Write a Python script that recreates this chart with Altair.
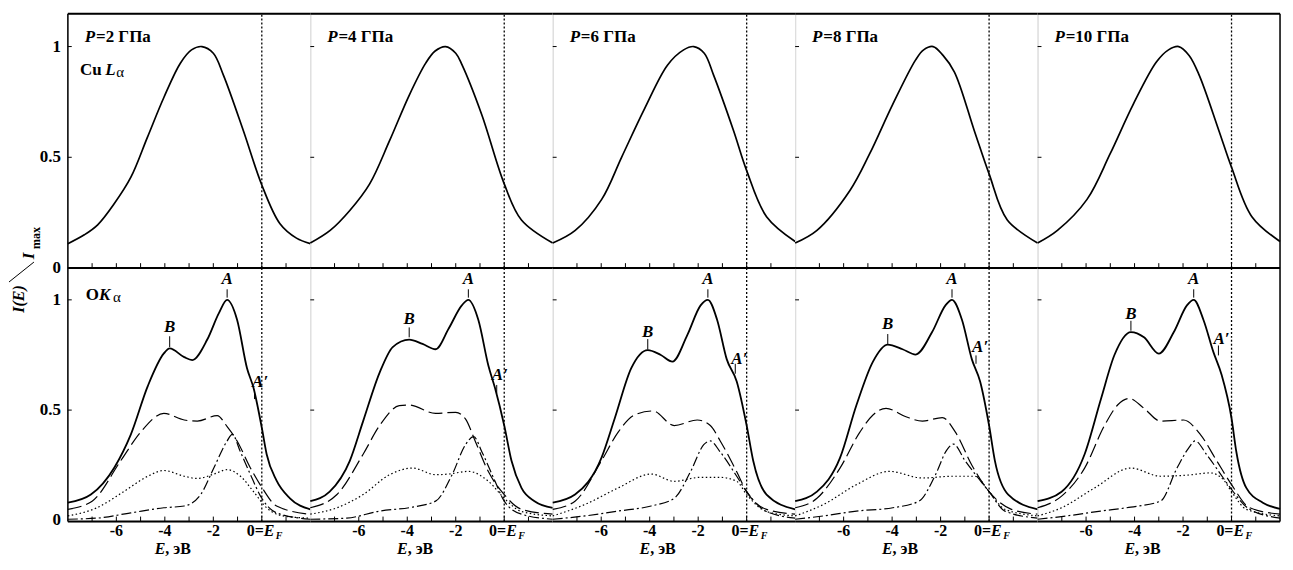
import altair as alt
import pandas as pd

FONT = "Liberation Serif"
PRESSURES = [2, 4, 6, 8, 10]

# ---- Top row: Cu L-alpha spectra (E in eV, I/Imax) ----
CU_E = {
    2: [-8, -7.32, -6.77, -6.09, -5.4, -4.72, -4.04, -3.36, -2.9, -2.47, -2.0, -1.58, -0.76, 0, 0.75, 1.43, 2.0],
    4: [-8, -7.18, -6.37, -5.55, -4.73, -3.92, -3.24, -2.85, -2.42, -2.0, -1.74, -0.93, 0, 0.71, 2.0],
    6: [-8, -7.07, -5.98, -5.16, -4.21, -3.26, -2.6, -2.18, -1.75, -1.36, -0.54, 0, 0.82, 2.0],
    8: [-8, -7.1, -5.74, -4.93, -3.98, -3.03, -2.7, -2.31, -1.9, -1.43, -0.61, 0, 0.75, 2.0],
    10: [-8, -7.18, -5.96, -5.01, -4.06, -3.1, -2.6, -2.18, -1.75, -1.33, -0.52, 0, 0.84, 2.0],
}
CU_I = {
    2: [0.11, 0.15, 0.195, 0.29, 0.41, 0.59, 0.77, 0.925, 0.985, 1.0, 0.97, 0.87, 0.62, 0.375, 0.2, 0.135, 0.11],
    4: [0.113, 0.17, 0.26, 0.38, 0.575, 0.78, 0.925, 0.98, 1.0, 0.97, 0.917, 0.693, 0.38, 0.217, 0.113],
    6: [0.113, 0.17, 0.31, 0.5, 0.72, 0.917, 0.985, 1.0, 0.97, 0.87, 0.62, 0.44, 0.232, 0.12],
    8: [0.113, 0.17, 0.35, 0.515, 0.738, 0.94, 0.985, 1.0, 0.96, 0.885, 0.62, 0.425, 0.217, 0.113],
    10: [0.113, 0.17, 0.31, 0.515, 0.738, 0.93, 0.985, 1.0, 0.96, 0.87, 0.62, 0.455, 0.232, 0.12],
}

# ---- Bottom row: O K-alpha spectra ----
TOT_E = {
    2: [-8, -7.05, -6.08, -5.4, -4.7, -4.04, -3.8, -3.2, -2.87, -2.25, -1.77, -1.43, -1.02, -0.61, -0.34, 0, 0.2, 0.61, 1.16, 2.0],
    4: [-8, -7.2, -6.37, -5.82, -5.14, -4.6, -3.92, -3.37, -2.83, -2.29, -1.75, -1.48, -1.07, -0.65, -0.38, 0, 0.3, 0.71, 1.25, 2.0],
    6: [-8, -7.08, -5.99, -5.44, -4.76, -4.08, -3.54, -3.06, -2.45, -1.9, -1.6, -1.22, -0.82, -0.41, 0, 0.27, 0.82, 2.0],
    8: [-8, -7.1, -6.15, -5.47, -4.79, -4.18, -3.57, -3.03, -2.35, -1.8, -1.53, -1.12, -0.71, -0.37, 0, 0.24, 0.79, 2.0],
    10: [-8, -7.01, -6.06, -5.38, -4.83, -4.15, -3.61, -3.0, -2.38, -1.84, -1.56, -1.16, -0.75, -0.41, 0, 0.2, 0.61, 1.29, 2.0],
}
TOT_I = {
    2: [0.08, 0.117, 0.24, 0.39, 0.61, 0.757, 0.78, 0.74, 0.727, 0.82, 0.94, 1.0, 0.91, 0.69, 0.6, 0.42, 0.3, 0.18, 0.10, 0.05],
    4: [0.087, 0.13, 0.27, 0.45, 0.67, 0.786, 0.82, 0.80, 0.776, 0.87, 0.975, 1.0, 0.91, 0.70, 0.60, 0.43, 0.27, 0.147, 0.087, 0.057],
    6: [0.08, 0.117, 0.283, 0.463, 0.69, 0.772, 0.75, 0.72, 0.84, 0.975, 1.0, 0.91, 0.73, 0.63, 0.43, 0.27, 0.117, 0.05],
    8: [0.087, 0.13, 0.283, 0.523, 0.72, 0.797, 0.776, 0.752, 0.854, 0.975, 1.0, 0.91, 0.73, 0.63, 0.43, 0.27, 0.117, 0.05],
    10: [0.087, 0.13, 0.30, 0.553, 0.75, 0.854, 0.83, 0.756, 0.854, 0.975, 1.0, 0.91, 0.764, 0.66, 0.463, 0.31, 0.147, 0.08, 0.052],
}
DASH_E = {
    2: [-8, -7, -5.82, -5.0, -4.04, -3.2, -2.66, -1.84, -1.43, -1.02, -0.48, 0, 0.61, 2],
    4: [-8, -6.9, -5.82, -5.14, -4.33, -3.92, -2.83, -2.0, -1.6, -1.2, -0.65, 0, 0.71, 2],
    6: [-8, -7.08, -5.99, -5.3, -4.62, -3.87, -2.99, -2.04, -1.5, -1.09, -0.41, 0, 0.82, 2],
    8: [-8, -7.1, -6.15, -5.33, -4.79, -4.25, -3.43, -2.75, -1.93, -1.39, -0.71, 0, 0.92, 2],
    10: [-8, -7.01, -6.06, -5.24, -4.7, -4.22, -3.61, -2.93, -1.98, -1.29, -0.61, 0, 0.75, 2],
}
DASH_I = {
    2: [0.05, 0.087, 0.27, 0.40, 0.485, 0.455, 0.45, 0.475, 0.425, 0.36, 0.24, 0.15, 0.065, 0.027],
    4: [0.057, 0.117, 0.30, 0.43, 0.52, 0.523, 0.485, 0.49, 0.46, 0.36, 0.22, 0.117, 0.05, 0.028],
    6: [0.05, 0.087, 0.27, 0.40, 0.478, 0.496, 0.43, 0.455, 0.43, 0.36, 0.22, 0.13, 0.05, 0.028],
    8: [0.057, 0.10, 0.237, 0.40, 0.478, 0.508, 0.47, 0.45, 0.466, 0.40, 0.25, 0.13, 0.05, 0.028],
    10: [0.057, 0.11, 0.237, 0.43, 0.523, 0.553, 0.508, 0.45, 0.455, 0.39, 0.27, 0.162, 0.057, 0.028],
}
DOT_E = {
    2: [-8, -6.8, -5.7, -4.7, -4.04, -3.2, -2.66, -1.97, -1.43, -0.88, -0.34, 0.2, 0.88, 2],
    4: [-8, -6.9, -5.82, -4.73, -3.78, -2.83, -2.29, -1.48, -0.65, 0, 0.71, 2],
    6: [-8, -6.67, -5.3, -3.94, -2.99, -1.9, -1.09, -0.41, 0, 0.82, 2],
    8: [-8, -6.83, -5.47, -4.11, -2.75, -1.53, -0.58, 0, 0.65, 2],
    10: [-8, -7.01, -5.65, -4.15, -2.93, -1.84, -0.88, -0.34, 0, 0.61, 2],
}
DOT_I = {
    2: [0.02, 0.057, 0.13, 0.2, 0.226, 0.2, 0.19, 0.21, 0.23, 0.2, 0.13, 0.057, 0.02, 0.01],
    4: [0.028, 0.057, 0.117, 0.207, 0.237, 0.207, 0.21, 0.222, 0.177, 0.10, 0.04, 0.02],
    6: [0.02, 0.072, 0.147, 0.21, 0.177, 0.195, 0.195, 0.177, 0.117, 0.04, 0.02],
    8: [0.02, 0.072, 0.162, 0.222, 0.192, 0.2, 0.2, 0.13, 0.05, 0.02],
    10: [0.02, 0.057, 0.147, 0.237, 0.2, 0.205, 0.215, 0.185, 0.13, 0.05, 0.02],
}
DD_E = {
    2: [-8, -6.8, -5.4, -4.04, -3.2, -2.52, -1.97, -1.43, -1.22, -0.88, -0.48, 0, 0.61, 2],
    4: [-8, -6.5, -5.14, -3.78, -2.83, -2.15, -1.6, -1.26, -0.92, -0.38, 0, 0.71, 2],
    6: [-8, -6.67, -5.3, -3.94, -2.99, -2.31, -1.77, -1.5, -1.09, -0.41, 0, 0.82, 2],
    8: [-8, -6.83, -5.47, -3.97, -2.89, -2.21, -1.74, -1.47, -0.99, -0.45, 0, 0.65, 2],
    10: [-8, -6.8, -5.4, -4.15, -2.93, -2.25, -1.77, -1.5, -1.02, -0.34, 0, 0.75, 2],
}
DD_I = {
    2: [0.005, 0.01, 0.034, 0.057, 0.065, 0.117, 0.24, 0.36, 0.39, 0.31, 0.21, 0.10, 0.034, 0.005],
    4: [0.005, 0.01, 0.042, 0.06, 0.087, 0.207, 0.343, 0.38, 0.31, 0.177, 0.087, 0.028, 0.005],
    6: [0.005, 0.02, 0.042, 0.065, 0.10, 0.222, 0.343, 0.36, 0.31, 0.2, 0.13, 0.04, 0.01],
    8: [0.005, 0.02, 0.042, 0.057, 0.087, 0.207, 0.32, 0.346, 0.27, 0.192, 0.13, 0.042, 0.01],
    10: [0.005, 0.02, 0.042, 0.06, 0.087, 0.237, 0.328, 0.36, 0.297, 0.192, 0.14, 0.05, 0.01],
}

# ---- peak labels (positions in data units) ----
A_E = {2: -1.43, 4: -1.48, 6: -1.6, 8: -1.53, 10: -1.56}
B_E = {2: -3.8, 4: -3.92, 6: -4.08, 8: -4.18, 10: -4.15}
B_TEXT_Y = {2: 0.875, 4: 0.913, 6: 0.853, 8: 0.89, 10: 0.935}
B_TICK = {2: (0.786, 0.835), 4: (0.83, 0.875), 6: (0.775, 0.822), 8: (0.80, 0.845), 10: (0.86, 0.905)}
AP_TEXT = {2: (-0.07, 0.628), 4: (-0.18, 0.658), 6: (-0.3, 0.733), 8: (-0.37, 0.785), 10: (-0.41, 0.822)}
AP_TICK = {2: (-0.3, 0.55, 0.592), 4: (-0.31, 0.575, 0.614), 6: (-0.47, 0.665, 0.71),
           8: (-0.54, 0.71, 0.748), 10: (-0.54, 0.748, 0.793)}

X_TICKS = [-7, -6, -5, -4, -3, -2, -1, 0, 1]
X_LABELS = [-6, -4, -2]
Y_LABELS = [0, 0.5, 1]

W, H_TOP, H_BOT = 243, 255, 254
PX_TOP, PX_BOT = 222, 221
XDOM = [-8, 2]
YDOM_TOP = [0, H_TOP / PX_TOP]
YDOM_BOT = [-0.005, H_BOT / PX_BOT - 0.005]
TICK_LABEL_Y = -0.005 - 15 / PX_BOT
SUB_Y = -0.005 - 18 / PX_BOT
TITLE_Y = -0.005 - 33 / PX_BOT


def X():
    return alt.X("E:Q", scale=alt.Scale(domain=XDOM, nice=False, zero=False), axis=None)


def X2():
    return alt.X2("E2:Q")


def Y(dom):
    return alt.Y("I:Q", scale=alt.Scale(domain=dom, nice=False, zero=False), axis=None)


def Y2():
    return alt.Y2("I2:Q")


def df(**kw):
    return pd.DataFrame(kw)


def text(e, i, s, dom, size=17, italic=False, bold=True, align="left", baseline="alphabetic"):
    return alt.Chart(df(E=[e], I=[i])).mark_text(
        text=s, font=FONT, fontSize=size, fontWeight="bold" if bold else "normal",
        fontStyle="italic" if italic else "normal", align=align, baseline=baseline, color="black"
    ).encode(x=X(), y=Y(dom))


def line(E, I, dom, width=1.7, dash=None, interp="monotone"):
    kw = dict(color="black", strokeWidth=width, interpolate=interp)
    if dash:
        kw["strokeDash"] = dash
    return alt.Chart(df(E=E, I=I)).mark_line(**kw).encode(x=X(), y=Y(dom))


def frame(dom, idx):
    layers = []
    lo, hi = dom
    # dotted Fermi level
    layers.append(alt.Chart(df(E=[0], I=[lo], I2=[hi])).mark_rule(
        color="black", strokeWidth=1.3, strokeDash=[2, 2]).encode(x=X(), y=Y(dom), y2=Y2()))
    # inward x ticks along the bottom edge
    layers.append(alt.Chart(df(E=X_TICKS, I=[lo] * len(X_TICKS), I2=[lo + 0.022] * len(X_TICKS))).mark_rule(
        color="black", strokeWidth=1).encode(x=X(), y=Y(dom), y2=Y2()))
    # inward y ticks on the left edge
    layers.append(alt.Chart(df(E=[-8, -8], E2=[-7.84, -7.84], I=[0.5, 1])).mark_rule(
        color="black", strokeWidth=1).encode(x=X(), x2=X2(), y=Y(dom)))
    # black horizontal edges
    layers.append(alt.Chart(df(E=[-8, -8], E2=[2, 2], I=[lo, hi])).mark_rule(
        color="black", strokeWidth=2).encode(x=X(), x2=X2(), y=Y(dom)))
    # outer vertical edges
    if idx == 0:
        layers.append(alt.Chart(df(E=[-8], I=[lo], I2=[hi])).mark_rule(
            color="black", strokeWidth=1.5).encode(x=X(), y=Y(dom), y2=Y2()))
    if idx == 4:
        layers.append(alt.Chart(df(E=[2], I=[lo], I2=[hi])).mark_rule(
            color="black", strokeWidth=1.5).encode(x=X(), y=Y(dom), y2=Y2()))
    # y tick labels on the first panel
    if idx == 0:
        layers.append(alt.Chart(df(E=[-8] * 3, I=Y_LABELS, L=["0", "0.5", "1"])).mark_text(
            font=FONT, fontSize=17, fontWeight="bold", align="right", baseline="middle", dx=-7, color="black"
        ).encode(x=X(), y=Y(dom), text="L:N"))
    return layers


top_panels, bot_panels = [], []
for idx, p in enumerate(PRESSURES):
    # ---------- top ----------
    d = YDOM_TOP
    layers = frame(d, idx)
    layers.append(line(CU_E[p], CU_I[p], d, width=1.7, interp="catmull-rom"))
    layers.append(text(-7.3, 1.022, "P", d, italic=True))
    layers.append(text(-6.84, 1.022, "=%d ГПа" % p, d))
    if idx == 0:
        layers.append(text(-7.5, 0.872, "Cu", d))
        layers.append(text(-6.46, 0.872, "L", d, italic=True))
        layers.append(text(-6.0, 0.862, "α", d, size=15, bold=False))
    top_panels.append(alt.layer(*layers).properties(width=W, height=H_TOP))

    # ---------- bottom ----------
    d = YDOM_BOT
    layers = frame(d, idx)
    layers.append(line(TOT_E[p], TOT_I[p], d, width=1.8))
    layers.append(line(DASH_E[p], DASH_I[p], d, width=1.2, dash=[14, 5]))
    layers.append(line(DOT_E[p], DOT_I[p], d, width=1.2, dash=[1.5, 2.5]))
    layers.append(line(DD_E[p], DD_I[p], d, width=1.2, dash=[10, 3, 2, 3]))
    # peak marks
    b_lo, b_hi = B_TICK[p]
    ap_e, ap_lo, ap_hi = AP_TICK[p]
    layers.append(alt.Chart(df(E=[A_E[p], B_E[p], ap_e], I=[1.01, b_lo, ap_lo], I2=[1.048, b_hi, ap_hi])).mark_rule(
        color="black", strokeWidth=1).encode(x=X(), y=Y(d), y2=Y2()))
    layers.append(text(A_E[p], 1.093, "A", d, italic=True, align="center", baseline="middle"))
    layers.append(text(B_E[p], B_TEXT_Y[p], "B", d, italic=True, align="center", baseline="middle"))
    layers.append(text(AP_TEXT[p][0], AP_TEXT[p][1], "A′", d, italic=True, align="center", baseline="middle"))
    # x tick labels and axis title
    layers.append(alt.Chart(df(E=X_LABELS, I=[TICK_LABEL_Y] * 3, L=["-6", "-4", "-2"])).mark_text(
        font=FONT, fontSize=16, fontWeight="bold", align="center", baseline="alphabetic", color="black"
    ).encode(x=X(), y=Y(d), text="L:N"))
    layers.append(text(0.08, TICK_LABEL_Y, "0=", d, size=16, align="right"))
    layers.append(text(0.08, TICK_LABEL_Y, "E", d, size=16, italic=True))
    layers.append(text(0.58, SUB_Y, "F", d, size=10, italic=True))
    layers.append(text(-3.98, TITLE_Y, "E", d, size=16, italic=True, align="right"))
    layers.append(text(-3.98, TITLE_Y, ", эВ", d, size=16))
    if idx == 0:
        layers.append(text(-7.26, 1.0, "O", d))
        layers.append(text(-6.72, 1.0, "K", d, italic=True))
        layers.append(text(-6.14, 0.99, "α", d, size=15, bold=False))
        # vertical axis title I(E)/Imax
        layers.append(alt.Chart(df(E=[0])).mark_text(
            text="I(E)", font=FONT, fontSize=16, fontWeight="bold", fontStyle="italic",
            angle=270, align="center", baseline="middle", color="black"
        ).encode(x=alt.value(-49), y=alt.value(31)))
        layers.append(alt.Chart(df(E=[0])).mark_rule(color="black", strokeWidth=1).encode(
            x=alt.value(-59), y=alt.value(14), x2=alt.value(-34), y2=alt.value(-6)))
        layers.append(alt.Chart(df(E=[0])).mark_text(
            text="I", font=FONT, fontSize=17, fontWeight="bold", fontStyle="italic",
            angle=270, align="center", baseline="middle", color="black"
        ).encode(x=alt.value(-39), y=alt.value(-12)))
        layers.append(alt.Chart(df(E=[0])).mark_text(
            text="max", font=FONT, fontSize=12, fontWeight="bold",
            angle=270, align="center", baseline="middle", color="black"
        ).encode(x=alt.value(-32), y=alt.value(-30)))
    bot_panels.append(alt.layer(*layers).properties(width=W, height=H_BOT))

chart = alt.concat(*top_panels, *bot_panels, columns=5, spacing=0, bounds="flush").properties(
    padding={"left": 0, "top": 3, "right": 0, "bottom": 0}
).configure_view(stroke="#8a8a8a", strokeWidth=1).configure(background="white")

chart.save("out.html", embed_options={"renderer": "svg", "actions": False})
